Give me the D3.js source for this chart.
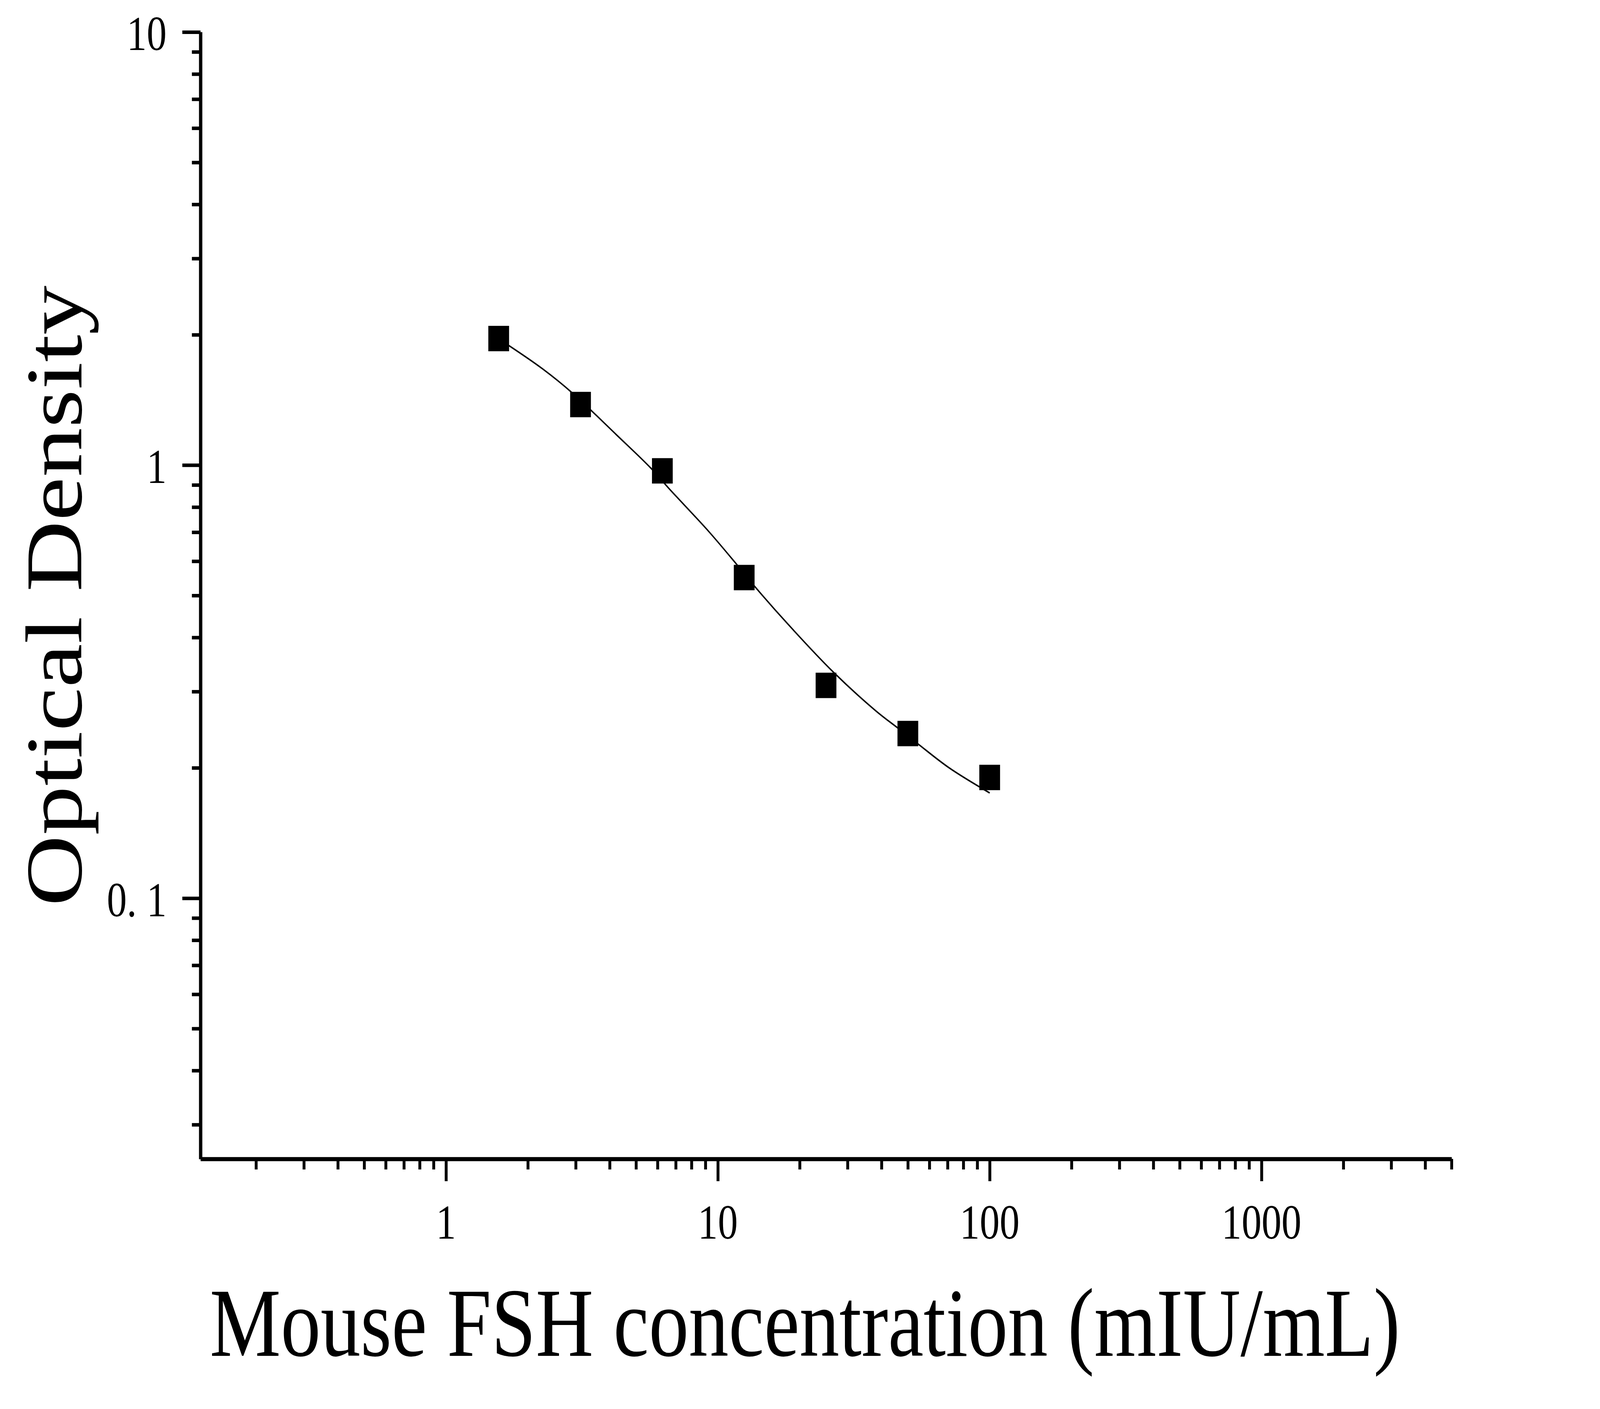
<!DOCTYPE html>
<meta charset="utf-8">
<head>
<title>Mouse FSH standard curve</title>
<script src="https://d3js.org/d3.v7.min.js"></script>
<style>
  html, body { margin: 0; padding: 0; background: #fff; overflow: hidden; }
  svg { display: block; }
  text { font-family: "Liberation Serif", "Times New Roman", serif; fill: #000; }
</style>
</head>
<body>
<div id="chart"></div>
<script>
    // standard points
    const conc = [1.5625, 3.125, 6.25, 12.5, 25, 50, 100];
    const od = [1.96, 1.38, 0.97, 0.55, 0.31, 0.24, 0.19];

    // fitted curve
    const fitConc = [1.5625, 1.70, 2.27, 2.90, 4.23, 5.68, 6.59, 9.29, 11.7, 13.76, 18.19, 26.56, 38.05, 46.36, 54.54, 70.9, 100];
    const fitOd = [1.955, 1.89, 1.667, 1.472, 1.176, 0.983, 0.885, 0.701, 0.591, 0.522, 0.428, 0.333, 0.271, 0.246, 0.227, 0.200, 0.175];

    const xMajor = [1, 10, 100, 1000];
    const xMajorLabels = ["1", "10", "100", "1000"];
    const xMinor = [0.2, 0.3, 0.4, 0.5, 0.6, 0.7, 0.8, 0.9,
                    2, 3, 4, 5, 6, 7, 8, 9,
                    20, 30, 40, 50, 60, 70, 80, 90,
                    200, 300, 400, 500, 600, 700, 800, 900,
                    2000, 3000, 4000, 5000];
    const yMajor = [0.1, 1, 10];
    const yMajorLabels = ["0. 1", "1", "10"];
    const yMinor = [0.03, 0.04, 0.05, 0.06, 0.07, 0.08, 0.09,
                    0.2, 0.3, 0.4, 0.5, 0.6, 0.7, 0.8, 0.9,
                    2, 3, 4, 5, 6, 7, 8, 9];

    const W = 5011, H = 3606;
    const plotLeft = 628, plotRight = 4546, plotTop = 82, plotBottom = 2966;

    // viewBox so the drawing fills the window whatever its pixel ratio
    let svg = d3.select("#chart")
                .append("svg")
                .attr("viewBox", `0 0 ${W} ${H}`)
                .attr("preserveAspectRatio", "none")
                .style("width", "100vw")
                .style("height", "100vh")
                .style("background", "#fff");

    let x = d3.scaleLog().domain([0.125, 5000]).range([plotLeft, plotRight]);
    let y = d3.scaleLog().domain([0.025, 10]).range([plotBottom, plotTop]);

    // minor ticks first, then major ones with the axis line
    function styleAxis(g) {
        g.selectAll("path.domain").attr("stroke", "#000").attr("stroke-width", 10);
        g.selectAll(".tick line").attr("stroke", "#000").attr("stroke-width", 9);
        g.selectAll(".tick text").remove();
    }

    svg.append("g")
       .attr("transform", `translate(0,${plotBottom})`)
       .call(d3.axisBottom(x).tickValues(xMinor).tickSize(27).tickSizeOuter(0).tickFormat(""))
       .call(styleAxis);
    svg.append("g")
       .attr("transform", `translate(0,${plotBottom})`)
       .call(d3.axisBottom(x).tickValues(xMajor).tickSize(57).tickSizeOuter(0).tickFormat(""))
       .call(styleAxis);

    svg.append("g")
       .attr("transform", `translate(${plotLeft},0)`)
       .call(d3.axisLeft(y).tickValues(yMinor).tickSize(27).tickSizeOuter(0).tickFormat(""))
       .call(styleAxis);
    svg.append("g")
       .attr("transform", `translate(${plotLeft},0)`)
       .call(d3.axisLeft(y).tickValues(yMajor).tickSize(57).tickSizeOuter(0).tickFormat(""))
       .call(styleAxis);

    // tick labels
    svg.selectAll("text.xlab")
       .data(xMajor)
       .enter()
       .append("text")
       .attr("class", "xlab")
       .attr("x", (d) => x(d))
       .attr("y", plotBottom + 204)
       .attr("text-anchor", "middle")
       .style("font-size", "125px")
       .text((d, i) => xMajorLabels[i]);

    svg.selectAll("text.ylab")
       .data(yMajor)
       .enter()
       .append("text")
       .attr("class", "ylab")
       .attr("x", 522)
       .attr("y", (d) => y(d) + 46)
       .attr("text-anchor", "end")
       .style("font-size", "125px")
       .text((d, i) => yMajorLabels[i]);

    // axis titles
    svg.append("text")
       .attr("x", 2521)
       .attr("y", 3470)
       .attr("text-anchor", "middle")
       .style("font-size", "250px")
       .text("Mouse FSH concentration (mIU/mL)");

    svg.append("text")
       .attr("transform", "translate(255,1525) rotate(-90)")
       .attr("text-anchor", "middle")
       .style("font-size", "252px")
       .text("Optical Density");

    // fitted curve
    let fit = fitConc.map((c, i) => [c, fitOd[i]]);
    svg.append("path")
       .datum(fit)
       .attr("fill", "none")
       .attr("stroke", "#000")
       .attr("stroke-width", 4)
       .attr("d", d3.line()
                    .x((d) => x(d[0]))
                    .y((d) => y(d[1]))
                    .curve(d3.curveCatmullRom));

    // standard markers
    let pts = conc.map((c, i) => [c, od[i]]);
    const s = 65;
    svg.selectAll("rect.pt")
       .data(pts)
       .enter()
       .append("rect")
       .attr("class", "pt")
       .attr("x", (d) => x(d[0]) - s / 2)
       .attr("y", (d) => y(d[1]) - s / 2)
       .attr("width", s)
       .attr("height", s)
       .attr("fill", "#000");
</script>
</body>
